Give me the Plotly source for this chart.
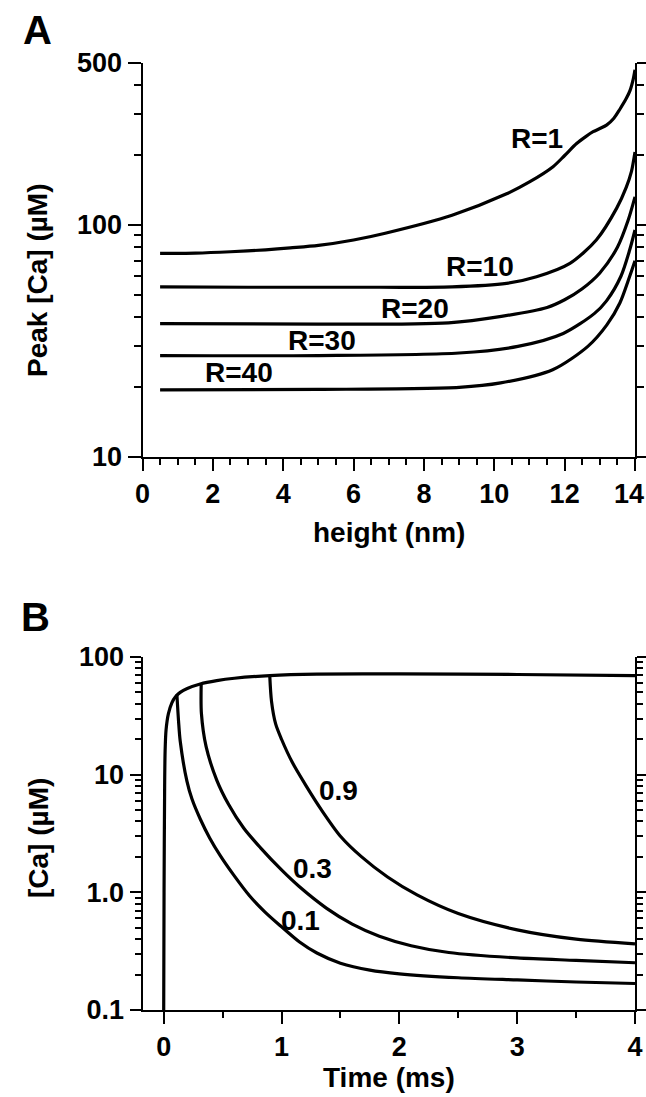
import numpy as np
import plotly.graph_objects as go

# ---------------- Panel A: peak [Ca] vs height, for several R ----------------
height_r1 = [0.5, 1.5, 2.5, 3.5, 4.2, 5.0, 6.0, 6.9, 8.8, 10.35, 11.0, 11.67, 12.0,
             12.34, 12.6, 12.81, 13.0, 13.19, 13.4, 13.57, 13.75, 13.86, 13.95, 14.0]
peak_r1 = [75.3, 75.5, 76.5, 78, 79.5, 81.5, 86, 92, 110, 136, 153, 178, 199,
           224, 240, 252, 260, 269, 288, 315, 350, 380, 425, 466]

height_r10 = [0.5, 3.0, 6.0, 8.8, 10.35, 11.2, 12.15, 12.9, 13.48, 13.75, 13.9, 14.0]
peak_r10 = [54, 53.8, 53.8, 54, 55.9, 59.7, 68.2, 86, 118, 145, 170, 206]

height_r20 = [0.5, 5.0, 8.7, 10.2, 11.5, 12.0, 12.5, 13.0, 13.5, 13.8, 14.0]
peak_r20 = [37.5, 37.3, 37.8, 40.3, 44, 47.5, 53, 62, 80, 104, 132]

height_r30 = [0.5, 5.0, 9.0, 10.67, 11.96, 12.85, 13.19, 13.6, 13.85, 14.0]
peak_r30 = [27.3, 27.3, 28, 29.9, 34, 41.5, 47, 60, 78, 95]

height_r40 = [0.5, 5.0, 9.0, 10.18, 11.66, 12.66, 13.2, 13.57, 13.85, 14.0]
peak_r40 = [19.4, 19.5, 19.9, 20.8, 23.7, 29.9, 37, 46, 60, 70]

labels_a = ["R=1", "R=10", "R=20", "R=30", "R=40"]
label_a_x = [11.2, 9.6, 7.75, 5.09, 2.75]
label_a_y = [235, 66, 43.4, 31.7, 23.1]

height_ticks = [0, 2, 4, 6, 8, 10, 12, 14]

# ---------------- Panel B: [Ca] time course ----------------
t_rise = [0.0, 0.003, 0.008, 0.012, 0.02, 0.04, 0.07, 0.1, 0.14, 0.2, 0.31, 0.45,
          0.6, 0.9, 1.3, 2.0, 3.0, 4.0]
ca_rise = [0.1, 1.0, 8, 16, 24, 33, 41, 46, 50, 54, 59, 63,
           66, 69.5, 71.5, 72, 71, 69.5]

t_d01 = [0.112, 0.126, 0.14, 0.197, 0.24, 0.31, 0.39, 0.48, 0.59, 0.73, 0.86, 0.99,
         1.15, 1.3, 1.5, 1.75, 2.0, 2.5, 3.0, 3.5, 4.0]
ca_d01 = [48, 28.5, 19.3, 8.8, 6.2, 4.2, 2.9, 2.05, 1.42, 0.93, 0.68, 0.52,
          0.38, 0.305, 0.25, 0.218, 0.203, 0.188, 0.18, 0.173, 0.168]

t_d03 = [0.318, 0.32, 0.36, 0.45, 0.55, 0.68, 0.82, 1.0, 1.15, 1.38, 1.6, 1.83,
         2.1, 2.42, 3.0, 3.5, 4.0]
ca_d03 = [58.7, 33.2, 17.3, 9.0, 5.6, 3.5, 2.4, 1.55, 1.12, 0.735, 0.537, 0.424,
          0.352, 0.308, 0.277, 0.264, 0.252]

t_d09 = [0.90, 0.915, 0.95, 1.0, 1.09, 1.21, 1.34, 1.50, 1.68, 1.90, 2.15, 2.50,
         3.0, 3.5, 4.0]
ca_d09 = [69.5, 42, 27, 20, 12.8, 8.0, 5.0, 3.0, 2.0, 1.35, 0.95, 0.66,
          0.48, 0.40, 0.365]

labels_b = ["0.9", "0.3", "0.1"]
label_b_x = [1.48, 1.26, 1.16]
label_b_y = [7.4, 1.61, 0.577]

# ---------------- geometry (pixels) ----------------
W, H = 646, 1097
X_LEFT, X_RIGHT = 142.5, 635
A_TOP, A_BOT = 62.7, 456.7
B_TOP, B_BOT = 657, 1010

def px_x(p):
    return p / W

def px_y(p):
    return 1 - p / H

FONT = "Liberation Sans, Arial, Helvetica, sans-serif"
LINE = dict(color="black", width=3.2)

fig = go.Figure()

for hx, pv in [(height_r1, peak_r1), (height_r10, peak_r10), (height_r20, peak_r20),
               (height_r30, peak_r30), (height_r40, peak_r40)]:
    fig.add_trace(go.Scatter(x=hx, y=pv, mode="lines", line=dict(LINE, shape="spline", smoothing=0.8),
                             xaxis="x", yaxis="y", showlegend=False, hoverinfo="skip"))

for tx, cv in [(t_rise, ca_rise), (t_d01, ca_d01), (t_d03, ca_d03), (t_d09, ca_d09)]:
    fig.add_trace(go.Scatter(x=tx, y=cv, mode="lines", line=dict(LINE, shape="spline", smoothing=0.8),
                             xaxis="x2", yaxis="y2", showlegend=False, hoverinfo="skip"))

tick_font = dict(family=FONT, size=27, color="black", weight="bold")

common_axis = dict(showline=True, linecolor="black", linewidth=2, showgrid=False,
                   zeroline=False, ticks="outside", tickcolor="black", tickwidth=2,
                   tickfont=tick_font, automargin=False, ticklabeloverflow="allow")

# the last height label sits at the page edge, so it is placed as right-aligned text
height_ticktext = [str(v) for v in height_ticks[:-1]] + [""]

fig.update_layout(
    width=W, height=H,
    margin=dict(l=0, r=0, t=0, b=0),
    paper_bgcolor="white", plot_bgcolor="white",
    xaxis=dict(common_axis, domain=[px_x(X_LEFT), px_x(X_RIGHT)], anchor="y",
               range=[0, 14], tickvals=height_ticks, ticktext=height_ticktext, ticklen=12,
               minor=dict(tickvals=list(np.arange(0.5, 14, 0.5)), ticks="outside",
                          ticklen=6, tickwidth=1.5, tickcolor="black")),
    yaxis=dict(common_axis, domain=[px_y(A_BOT), px_y(A_TOP)], anchor="x",
               type="log", range=[1, np.log10(500)], mirror="allticks",
               tickvals=[10, 100, 500], ticktext=["10", "100", "500"], ticklen=13,
               minor=dict(tickvals=[20, 30, 40, 50, 60, 70, 80, 90, 200, 300, 400],
                          ticks="outside", ticklen=7, tickwidth=1.5, tickcolor="black")),
    xaxis2=dict(common_axis, domain=[px_x(X_LEFT), px_x(X_RIGHT)], anchor="y2",
                range=[-0.18, 4], tickvals=[0, 1, 2, 3, 4], ticklen=12,
                minor=dict(tickvals=[0.5, 1.5, 2.5, 3.5], ticks="outside",
                           ticklen=6, tickwidth=1.5, tickcolor="black")),
    yaxis2=dict(common_axis, domain=[px_y(B_BOT), px_y(B_TOP)], anchor="x2",
                type="log", range=[-1, 2], mirror="allticks",
                tickvals=[0.1, 1, 10, 100], ticktext=["0.1", "1.0", "10", "100"], ticklen=11,
                minor=dict(tickvals=[v * d for d in (0.1, 1, 10) for v in range(2, 10)],
                           ticks="outside", ticklen=6, tickwidth=1.5, tickcolor="black")),
)

ann = []
label_font = dict(family=FONT, size=28, color="black", weight="bold")
for txt, lx, ly in zip(labels_a, label_a_x, label_a_y):
    ann.append(dict(text=txt, x=lx, y=np.log10(ly), xref="x", yref="y", showarrow=False,
                    font=label_font, xanchor="center", yanchor="middle"))
for txt, lx, ly in zip(labels_b, label_b_x, label_b_y):
    ann.append(dict(text=txt, x=lx, y=np.log10(ly), xref="x2", yref="y2", showarrow=False,
                    font=label_font, xanchor="center", yanchor="middle"))

def paper_text(txt, x, y, size=28, angle=0, anchor="center"):
    return dict(text=txt, x=px_x(x), y=px_y(y), xref="paper", yref="paper", showarrow=False,
                textangle=angle, xanchor=anchor, yanchor="middle",
                font=dict(family=FONT, size=size, color="black", weight="bold"))

ann += [
    paper_text("A", 37, 30, size=40),
    paper_text("B", 35, 617, size=40),
    paper_text("Peak [Ca] (µM)", 37, 280, angle=-90),
    paper_text("height (nm)", 389, 532),
    paper_text("[Ca] (µM)", 38, 838, angle=-90),
    paper_text("Time (ms)", 389, 1077),
    dict(text=str(height_ticks[-1]), x=1.0, y=px_y(494), xref="paper", yref="paper",
         showarrow=False, xanchor="right", yanchor="middle", font=tick_font),
]
fig.update_layout(annotations=ann)

fig.write_html("out.html")
